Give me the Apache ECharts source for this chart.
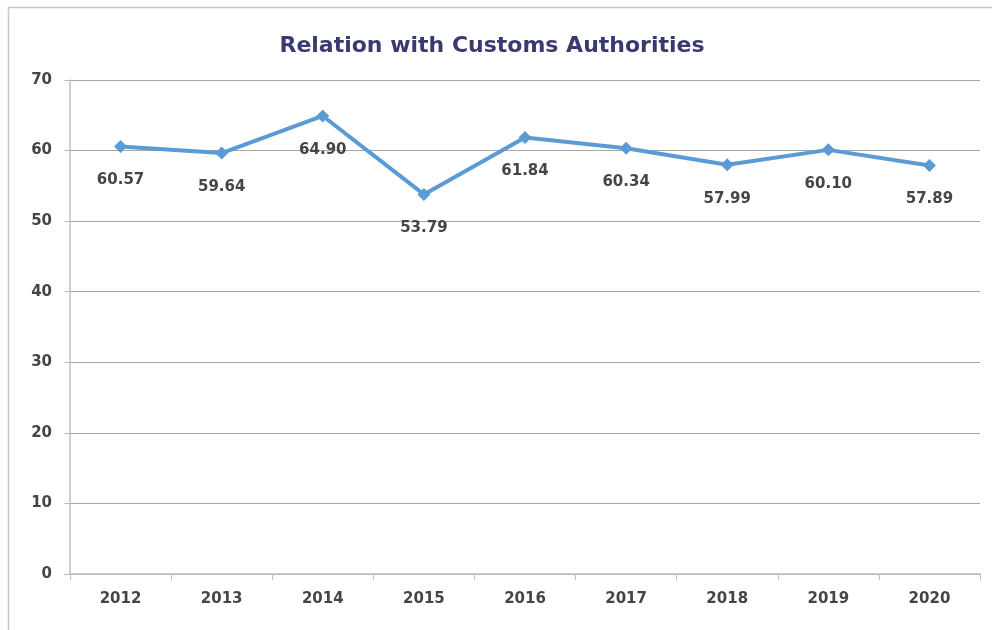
<!DOCTYPE html>
<html><head><meta charset="utf-8">
<script src="https://cdn.jsdelivr.net/npm/echarts@6/dist/echarts.min.js"></script>
<style>html,body{margin:0;padding:0;background:#fff}#c{width:992px;height:630px}</style>
</head><body><div id="c"></div>
<script>
const titleText = 'Relation with Customs Authorities';
const years = ['2012','2013','2014','2015','2016','2017','2018','2019','2020'];
const scores = [60.57, 59.64, 64.90, 53.79, 61.84, 60.34, 57.99, 60.10, 57.89];
const yTicks = {min: 0, max: 70, interval: 10};

const FONT = '"DejaVu Sans", sans-serif';
const chart = echarts.init(document.getElementById('c'), null, {renderer: 'canvas'});
chart.setOption({
  animation: false,
  backgroundColor: '#fff',
  graphic: [{type: 'rect', shape: {x: 8.5, y: 7.5, width: 1000, height: 700},
    style: {fill: 'none', stroke: '#c8c8c8', lineWidth: 1.5}, silent: true}],
  title: {text: titleText, left: 487, top: 30, textAlign: 'center',
    textStyle: {fontFamily: FONT, fontWeight: 'bold', fontSize: 22, color: '#3a3a72'}},
  grid: {left: 70, right: 12, top: 80, bottom: 56, containLabel: false},
  xAxis: {type: 'category', data: years, boundaryGap: true,
    axisLine: {lineStyle: {color: '#bfbfbf', width: 1.5}},
    axisTick: {show: true, length: 6, lineStyle: {color: '#bfbfbf'}},
    axisLabel: {margin: 18, fontFamily: FONT, fontWeight: 'bold', fontSize: 15, color: '#454545'}},
  yAxis: {type: 'value', min: yTicks.min, max: yTicks.max, interval: yTicks.interval,
    axisLine: {show: true, lineStyle: {color: '#bfbfbf', width: 1.5}},
    axisTick: {show: true, length: 6, lineStyle: {color: '#bfbfbf'}},
    splitLine: {lineStyle: {color: '#a6a6a6', width: 1}},
    axisLabel: {margin: 18, fontFamily: FONT, fontWeight: 'bold', fontSize: 15, color: '#454545'}},
  series: [{type: 'line', data: scores, symbol: 'diamond', symbolSize: 13,
    lineStyle: {color: '#5b9bd5', width: 4}, itemStyle: {color: '#5b9bd5'},
    label: {show: true, position: 'bottom', distance: 20,
      formatter: p => p.value.toFixed(2),
      fontFamily: FONT, fontWeight: 'bold', fontSize: 15, color: '#454545'}}]
});
</script></body></html>
